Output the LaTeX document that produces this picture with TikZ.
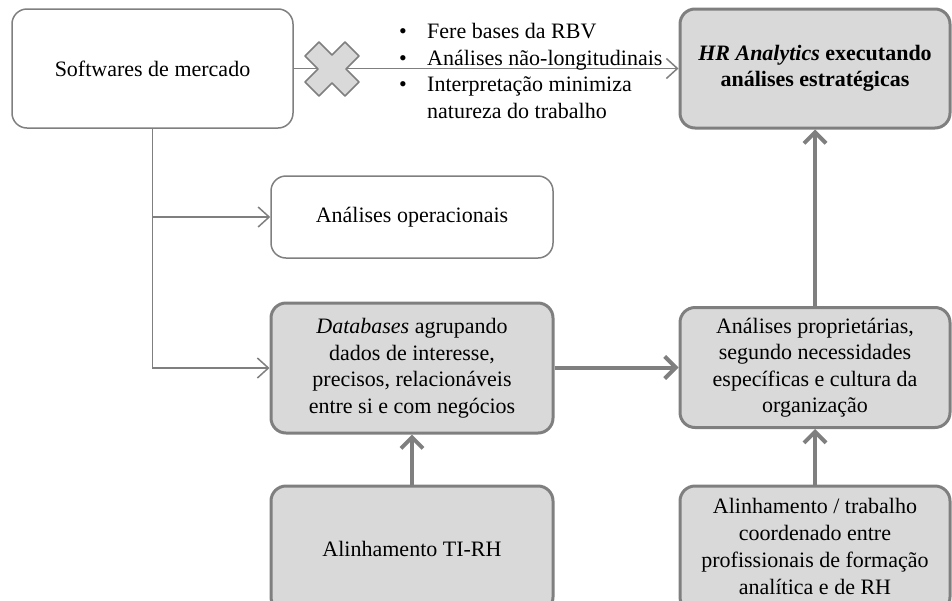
\documentclass[tikz,border=0pt]{standalone}
\usepackage{fontspec}
\setmainfont{Liberation Serif}
\usetikzlibrary{arrows.meta}
\definecolor{lgray}{HTML}{7F7F7F}
\definecolor{fgray}{HTML}{D9D9D9}
\begin{document}
\begin{tikzpicture}[x=1pt,y=-1pt,
  every node/.style={font=\fontsize{22}{26.5}\selectfont},
  wbox/.style={draw=lgray, line width=1.5pt, fill=white, rounded corners=15pt, align=center, inner sep=0pt},
  gbox/.style={draw=lgray, line width=3pt, fill=fgray, rounded corners=15pt, align=center, inner sep=0pt},
  thinarrow/.style={draw=lgray, line width=1.5pt, -{Straight Barb[length=11pt,width=20pt]}},
  thickarrow/.style={draw=lgray, line width=4pt, -{Straight Barb[length=11pt,width=22pt]}},
  crossmark/.style={fill=fgray, draw=lgray, line width=1.5pt, line join=round}
]
\useasboundingbox (0,0) rectangle (952,600);

\node[wbox, minimum width=281pt, minimum height=119pt] (soft) at (152.5,68.5) {Softwares de mercado};
\node[gbox, minimum width=270pt, minimum height=119pt] (hr) at (815,68.5) {\textbf{\textit{HR Analytics} executando}\\\textbf{análises estratégicas}};
\node[wbox, minimum width=282pt, minimum height=82pt] (oper) at (412,217) {Análises operacionais};
\node[gbox, minimum width=282pt, minimum height=130pt] (db) at (412,368) {\textit{Databases} agrupando\\dados de interesse,\\precisos, relacionáveis\\entre si e com negócios};
\node[gbox, minimum width=270pt, minimum height=120pt] (prop) at (815,367.5) {Análises proprietárias,\\segundo necessidades\\específicas e cultura da\\organização};
\node[gbox, minimum width=282pt, minimum height=126pt] (tirh) at (412,549) {Alinhamento TI-RH};
\node[gbox, minimum width=270pt, minimum height=126pt] (alin) at (815,549) {\raisebox{12pt}{\begin{tabular}{@{}c@{}}Alinhamento / trabalho\\[0.5pt]coordenado entre\\[0.5pt]profissionais de formação\\[0.5pt]analítica e de RH\end{tabular}}};

% connectors
\draw[thinarrow] (soft.east) -- (hr.west);
\draw[thinarrow] (soft.south) |- (oper.west);
\draw[thinarrow] (soft.south) |- (db.west);
\draw[thickarrow] (db.east |- prop.west) -- (prop.west);
\draw[thickarrow] (prop.north) -- (hr.south);
\draw[thickarrow] (tirh.north) -- (db.south);
\draw[thickarrow] (alin.north) -- (prop.south);

% cross mark
\coordinate (xc) at (332,69);
\draw[crossmark, shift={(xc)}] (14,0) -- (27,13) -- (13,27) -- (0,14) -- (-13,27) -- (-27,13) -- (-14,0) -- (-27,-13) -- (-13,-27) -- (0,-14) -- (13,-27) -- (27,-13) -- cycle;

% bullet list
\node[anchor=base west, inner sep=0pt, align=left] (bul) at (399,118) {%
\makebox[28pt][l]{•}Fere bases da RBV\\
\makebox[28pt][l]{•}Análises não-longitudinais\\
\makebox[28pt][l]{•}Interpretação minimiza\\
\makebox[28pt][l]{}natureza do trabalho};
\end{tikzpicture}
\end{document}
